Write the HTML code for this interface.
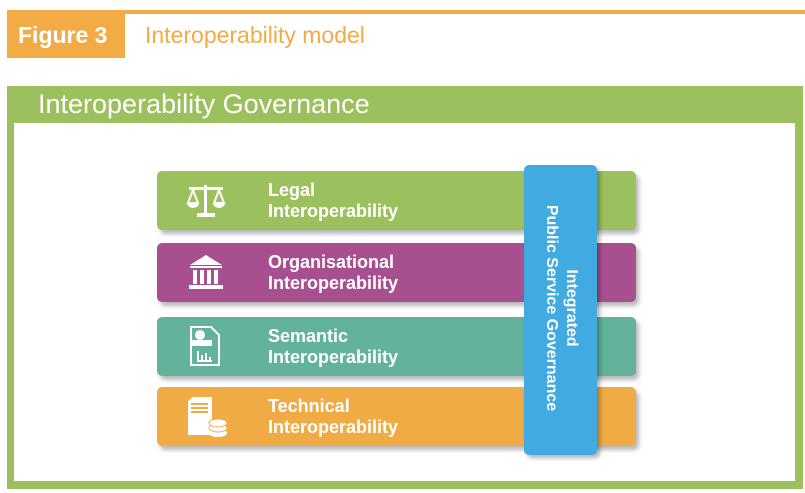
<!DOCTYPE html>
<html><head><style>
body{margin:0;width:805px;height:493px;background:#fff;position:relative;overflow:hidden;font-family:"Liberation Sans","DejaVu Sans",sans-serif}
.a{position:absolute}
.bar{position:absolute;left:157px;width:479px;height:59px;border-radius:5px;box-shadow:3px 4px 4px rgba(0,0,0,0.28)}
.t{position:absolute;left:111px;top:9px;color:#fff;font-weight:bold;font-size:18px;line-height:21px}
.ic{position:absolute;left:28px;top:10px}
</style></head><body>
<div class="a" style="left:7px;top:10px;width:798px;height:4px;background:#f2ab45"></div>
<div class="a" style="left:7px;top:13px;width:118px;height:45px;background:#f2ab45"></div>
<div class="a" style="left:18px;top:20px;color:#fff;font-weight:bold;font-size:23px;line-height:30px">Figure 3</div>
<div class="a" style="left:145px;top:20px;color:#f2ab45;font-size:23px;line-height:30px">Interoperability model</div>
<div class="a" style="left:7px;top:86px;width:796px;height:403px;background:#9cc05d"></div>
<div class="a" style="left:14px;top:123px;width:781px;height:358px;background:#fff"></div>
<div class="a" style="left:38px;top:86px;color:#fff;font-size:27px;line-height:37px;font-weight:300">Interoperability Governance</div>

<div class="bar" style="top:171px;background:#9cc05d">
<svg class="ic" width="42" height="40" viewBox="0 0 42 40" fill="#fff"><rect x="19" y="4" width="3" height="28"/><rect x="4" y="6" width="34" height="3"/><rect x="12" y="32" width="18" height="4"/><path d="M3 22 L8 9 L13 22Z" fill="none" stroke="#fff" stroke-width="2"/><path d="M2 22h12a6 5 0 0 1-12 0z"/><path d="M29 22 L34 9 L39 22Z" fill="none" stroke="#fff" stroke-width="2"/><path d="M28 22h12a6 5 0 0 1-12 0z"/></svg>
<div class="t">Legal<br>Interoperability</div></div>

<div class="bar" style="top:243px;background:#a8508f">
<svg class="ic" width="42" height="40" viewBox="0 0 42 40" fill="#fff"><path d="M5 12 L21 2 L37 12Z"/><rect x="5" y="13" width="32" height="2"/><rect x="8" y="17" width="4" height="14"/><rect x="15" y="17" width="4" height="14"/><rect x="22" y="17" width="4" height="14"/><rect x="29" y="17" width="4" height="14"/><rect x="4" y="32" width="34" height="4"/></svg>
<div class="t">Organisational<br>Interoperability</div></div>

<div class="bar" style="top:317px;background:#62b29c">
<svg class="ic" width="42" height="44" viewBox="0 0 42 44" fill="none" stroke="#fff" stroke-width="2" style="top:8px"><path d="M6 2 H26 L34 10 V40 H6Z"/><circle cx="15" cy="10" r="4" fill="#fff"/><rect x="6" y="16" width="20" height="4" fill="#fff"/><path d="M13 26 V36 M17 30 V36 M21 28 V36 M25 32 V36 M12 36H27"/></svg>
<div class="t">Semantic<br>Interoperability</div></div>

<div class="bar" style="top:387px;background:#f1ab44">
<svg class="ic" width="44" height="44" viewBox="0 0 44 44" fill="#fff" style="top:8px"><path d="M3 6 L8 2 H27 V40 H3Z"/><rect x="6" y="8" width="17" height="2" fill="#f1ab44"/><rect x="6" y="12" width="17" height="2" fill="#f1ab44"/><rect x="6" y="16" width="17" height="2" fill="#f1ab44"/><ellipse cx="33" cy="38" rx="9" ry="4"/><ellipse cx="33" cy="33" rx="9" ry="4" stroke="#f1ab44" stroke-width="1"/><ellipse cx="33" cy="28" rx="9" ry="4" stroke="#f1ab44" stroke-width="1"/></svg>
<div class="t">Technical<br>Interoperability</div></div>

<div class="a" style="left:524px;top:165px;width:73px;height:290px;background:#41aae0;border-radius:5px;box-shadow:3px 3px 4px rgba(0,0,0,0.3)"></div>
<div class="a" style="left:560px;top:308px;width:300px;margin-left:-150px;margin-top:-21px;height:42px;transform:rotate(90deg);color:#fff;font-weight:bold;font-size:16px;line-height:20px;text-align:center">Integrated<br>Public Service Governance</div>
</body></html>
